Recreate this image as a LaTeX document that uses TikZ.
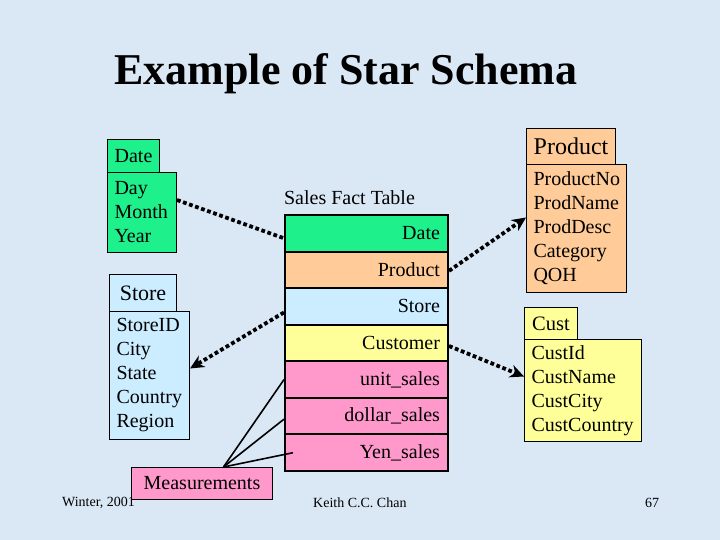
\documentclass[tikz,border=0pt]{standalone}
\usepackage{fontspec}
\setmainfont{Liberation Serif}
\usetikzlibrary{arrows.meta}
\definecolor{bgc}{HTML}{DAE8F6}
\definecolor{dgreen}{HTML}{1EF08C}
\definecolor{dpeach}{HTML}{FFCC99}
\definecolor{dblue}{HTML}{CCECFF}
\definecolor{dyellow}{HTML}{FFFF99}
\definecolor{dpink}{HTML}{FF99CC}
\tikzset{
  hdr/.style={draw=black, line width=1pt, anchor=north west, inner sep=0pt, minimum height=#1},
  dbody/.style={draw=black, line width=1pt, anchor=north west, inner xsep=7pt, inner ysep=0pt, align=left,
     font=\fontsize{20}{24}\selectfont},
  fcell/.style={draw=black, line width=2pt, fill=#1, anchor=north west, minimum width=163pt, minimum height=36.57pt,
     text width=147pt, inner xsep=8pt, inner ysep=0pt, align=right, font=\fontsize{20}{23}\selectfont},
  dotarrow/.style={line width=3.8pt, dash pattern=on 3.8pt off 2.6pt, -{Stealth[length=14pt,width=13pt]}},
  dotline/.style={line width=3.8pt, dash pattern=on 3.8pt off 2.6pt},
  mline/.style={line width=1.6pt},
  foot/.style={font=\fontsize{14}{16}\selectfont, inner sep=0pt}
}
\begin{document}
\begin{tikzpicture}[x=1pt,y=-1pt]
\fill[bgc] (0,0) rectangle (720,540);
\useasboundingbox (0,0) rectangle (720,540);
% title
\node[font=\fontsize{44}{48}\selectfont\bfseries, inner sep=0pt] (title) at (346,74) {Example of Star Schema};
% Date dimension
\node[hdr=33pt, fill=dgreen, minimum width=52pt, font=\fontsize{20}{22}\selectfont] (datehdr) at (107,139) {Date};
\node[dbody, fill=dgreen, minimum height=80pt, text width=55pt] (datebody) at (107,172) {Day\\Month\\Year};
% Store dimension
\node[hdr=37pt, fill=dblue, minimum width=67pt, font=\fontsize{22}{24}\selectfont] (storehdr) at (109,274) {Store};
\node[dbody, fill=dblue, minimum height=128pt, text width=66pt] (storebody) at (109,311) {StoreID\\City\\State\\Country\\Region};
% Product dimension
\node[hdr=36pt, fill=dpeach, minimum width=89pt, font=\fontsize{24}{26}\selectfont] (prodhdr) at (526,128) {Product};
\node[dbody, fill=dpeach, minimum height=128pt, text width=86pt] (prodbody) at (526,164) {ProductNo\\ProdName\\ProdDesc\\Category\\QOH};
% Cust dimension
\node[hdr=32pt, fill=dyellow, minimum width=53pt, font=\fontsize{20.5}{22}\selectfont] (custhdr) at (524,307) {Cust};
\node[dbody, fill=dyellow, minimum height=102pt, text width=103pt] (custbody) at (524,339) {CustId\\CustName\\CustCity\\CustCountry};
% Fact table
\node[font=\fontsize{20}{22}\selectfont, inner sep=0pt] (facttitle) at (349.5,198) {Sales Fact Table};
\node[fcell=dgreen] (fdate) at (284,214) {Date};
\node[fcell=dpeach] (fprod) at (284,250.57) {Product};
\node[fcell=dblue] (fstore) at (284,287.14) {Store};
\node[fcell=dyellow] (fcust) at (284,323.71) {Customer};
\node[fcell=dpink] (funit) at (284,360.29) {unit\_sales};
\node[fcell=dpink] (fdollar) at (284,396.86) {dollar\_sales};
\node[fcell=dpink] (fyen) at (284,433.43) {Yen\_sales};
% Measurements
\node[draw=black, line width=1pt, fill=dpink, anchor=north west, minimum width=141pt, minimum height=32pt, inner sep=0pt,
  font=\fontsize{20}{22}\selectfont] (meas) at (131,467) {Measurements};
\coordinate (mtop) at ([xshift=21.5pt]meas.north);
\draw[mline] (mtop) -- (funit.west);
\draw[mline] (mtop) -- ([yshift=-3pt]fdollar.west);
\draw[mline] (mtop) -- ([xshift=9pt]fyen.west);
% connectors
\draw[dotline] ([yshift=-28pt]datebody.north east) -- ([yshift=-5pt]fdate.west);
\draw[dotarrow] ([yshift=-1pt]fprod.east) -- ([yshift=11pt]prodbody.west);
\draw[dotarrow] ([yshift=-6pt]fstore.west) -- ([yshift=7pt]storebody.east);
\draw[dotarrow] ([yshift=-3pt]fcust.east) -- ([yshift=14pt]custbody.west);
% footer
\node[foot, anchor=west] (fl) at (62,503) {Winter, 2001};
\node[foot, anchor=west] (fc) at (313,503) {Keith C.C. Chan};
\node[foot, anchor=west] (fr) at (645,503) {67};
\end{tikzpicture}
\end{document}
